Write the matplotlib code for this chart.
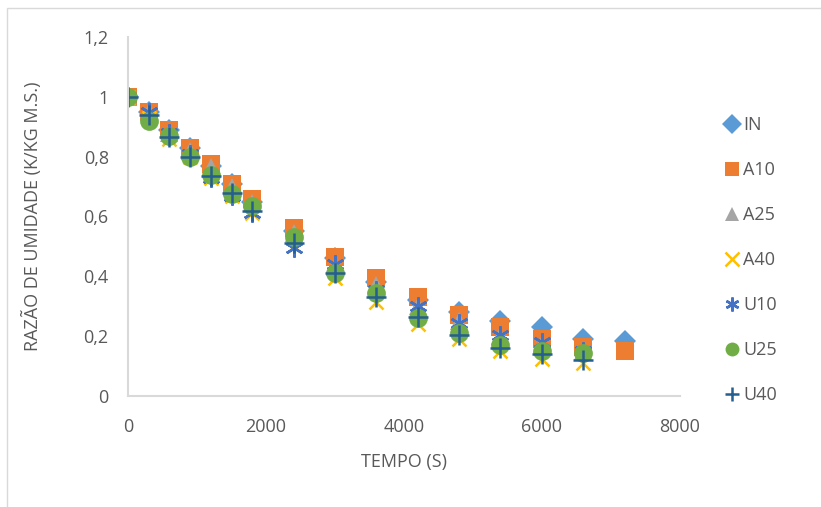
import matplotlib.pyplot as plt
from matplotlib.patches import Rectangle

plt.rcParams['font.family'] = ['Open Sans', 'DejaVu Sans']

tempo = [0, 300, 600, 900, 1200, 1500, 1800, 2400, 3000, 3600, 4200, 4800, 5400, 6000, 6600, 7200]

IN  = [1, 0.95, 0.89, 0.83, 0.77, 0.71, 0.65, 0.55, 0.46, 0.38, 0.32, 0.28, 0.25, 0.23, 0.19, 0.185]
A10 = [1, 0.95, 0.89, 0.83, 0.775, 0.71, 0.66, 0.56, 0.465, 0.395, 0.33, 0.27, 0.23, 0.19, 0.165, 0.15]
A25 = [1, 0.95, 0.88, 0.82, 0.765, 0.70, 0.645, 0.545, 0.43, 0.37, 0.30, 0.25, 0.20, 0.175, 0.15]
A40 = [1, 0.93, 0.86, 0.80, 0.73, 0.67, 0.61, 0.50, 0.395, 0.315, 0.24, 0.19, 0.15, 0.125, 0.11]
U10 = [1, 0.95, 0.88, 0.81, 0.73, 0.67, 0.61, 0.495, 0.44, 0.355, 0.30, 0.245, 0.205, 0.18, 0.15]
U25 = [1, 0.92, 0.87, 0.80, 0.74, 0.675, 0.635, 0.53, 0.41, 0.345, 0.26, 0.21, 0.17, 0.15, 0.145]
U40 = [1, 0.94, 0.865, 0.80, 0.735, 0.68, 0.62, 0.51, 0.41, 0.33, 0.265, 0.205, 0.16, 0.14, 0.12]

series = [
    ("IN", IN, "D", "#5B9BD5", 11),
    ("A10", A10, "s", "#ED7D31", 13),
    ("A25", A25, "^", "#A5A5A5", 13),
    ("A40", A40, "x", "#FFC000", 10),
    ("U10", U10, (6, 2, 0), "#4472C4", 13),
    ("U25", U25, "o", "#70AD47", 13.5),
    ("U40", U40, "+", "#255E91", 14),
]

fig = plt.figure(figsize=(8.21, 5.07), dpi=100)
ax = fig.add_axes([0.156, 0.219, 0.672, 0.708])

for nome, vals, mk, cor, ms in series:
    if mk in ("x", "+") or isinstance(mk, tuple):
        ax.plot(tempo[:len(vals)], vals, linestyle="none", marker=mk, color=cor,
                markersize=ms, markeredgewidth=1.8, label=nome)
    else:
        ax.plot(tempo[:len(vals)], vals, linestyle="none", marker=mk, color=cor,
                markersize=ms, markeredgewidth=0, label=nome)

ax.set_xlim(0, 8000)
ax.set_ylim(0, 1.2)
ax.set_xticks([0, 2000, 4000, 6000, 8000])
ax.set_yticks([0, 0.2, 0.4, 0.6, 0.8, 1, 1.2])
ax.set_yticklabels(["0", "0,2", "0,4", "0,6", "0,8", "1", "1,2"])
ax.tick_params(axis="x", length=0, labelsize=13, colors="#595959", pad=16)
ax.tick_params(axis="y", length=0, labelsize=13, colors="#595959", pad=14)

for s in ["top", "right"]:
    ax.spines[s].set_visible(False)
for s in ["left", "bottom"]:
    ax.spines[s].set_color("#D9D9D9")
    ax.spines[s].set_linewidth(1.5)

ax.set_xlabel("TEMPO (S)", fontsize=13, color="#595959", labelpad=12)
ax.set_ylabel("RAZÃO DE UMIDADE (K/KG M.S.)", fontsize=13, color="#595959", labelpad=30)

leg = ax.legend(loc="center left", bbox_to_anchor=(0.858, 0.487), bbox_transform=fig.transFigure,
                frameon=False, fontsize=13, labelspacing=1.5, handletextpad=0.05,
                handlelength=1.2, labelcolor="#595959")
for h in leg.legend_handles:
    h.set_markersize(10)

fig.patches.append(Rectangle((0.008, -0.01), 1.0, 0.995, transform=fig.transFigure,
                             fill=False, edgecolor="#D9D9D9", linewidth=1))

fig.savefig("out.png", dpi=100)
